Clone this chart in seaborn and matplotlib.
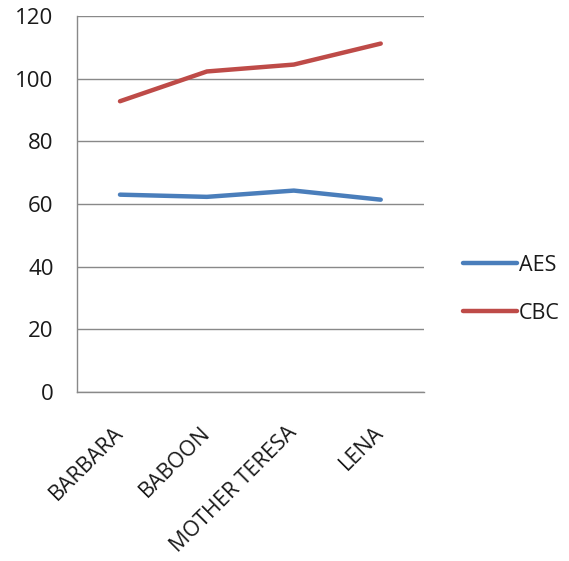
import matplotlib
matplotlib.use("Agg")
import matplotlib.pyplot as plt
import seaborn as sns
import pandas as pd

images = ["BARBARA", "BABOON", "MOTHER TERESA", "LENA"]
aes = [63.0, 62.3, 64.3, 61.4]
cbc = [92.8, 102.3, 104.5, 111.2]
series_names = ["AES", "CBC"]
y_ticks = [0, 20, 40, 60, 80, 100, 120]

sns.set_style("white")
plt.rcParams["font.family"] = ["Open Sans", "DejaVu Sans"]

df = pd.DataFrame({
    "image": images * 2,
    "x": list(range(len(images))) * 2,
    "value": aes + cbc,
    "method": [series_names[0]] * len(images) + [series_names[1]] * len(images),
})

fig = plt.figure(figsize=(5.69, 5.61), dpi=100)
ax = fig.add_axes([0.1345, 0.301, 0.611, 0.6705])

palette = {"AES": "#4A7EBB", "CBC": "#BE4B48"}
line_w = 3.2
sns.lineplot(data=df, x="x", y="value", hue="method", palette=palette,
             linewidth=line_w, ax=ax, legend=False, solid_capstyle="round")

ax.set_xlim(-0.5, len(images) - 0.5)
ax.set_ylim(0, 120)
ax.set_yticks(y_ticks)
ax.set_yticklabels([str(v) for v in y_ticks], fontsize=16, color="#1a1a1a")
ax.yaxis.grid(True, color="#898989", linewidth=1.0)
ax.set_axisbelow(True)

# category labels at centers, tick marks at category boundaries
ax.set_xticks(range(len(images)))
ax.set_xticklabels(images, rotation=45, ha="right", va="center",
                   rotation_mode="anchor", fontsize=15.5, color="#1a1a1a")
ax.tick_params(axis="x", which="major", length=0, pad=27)
ax.set_xticks([i - 0.5 for i in range(len(images) + 1)], minor=True)
ax.tick_params(axis="x", which="minor", length=6.5, color="#898989", width=1.0, direction="out")
ax.tick_params(axis="y", length=6.5, color="#898989", width=1.0, direction="out", pad=10)

for side in ["top", "right"]:
    ax.spines[side].set_visible(False)
for side in ["left", "bottom"]:
    ax.spines[side].set_color("#898989")
    ax.spines[side].set_linewidth(1.0)
ax.set_xlabel("")
ax.set_ylabel("")

handles = [plt.Line2D([], [], color=palette[n], linewidth=line_w, solid_capstyle="round")
           for n in series_names]
fig.legend(handles, series_names, loc="center left", bbox_to_anchor=(0.8137, 0.484),
           frameon=False, fontsize=15.5, handlelength=2.5, handletextpad=0.1,
           labelspacing=1.25, borderaxespad=0, borderpad=0, labelcolor="#1a1a1a")

fig.savefig("out.png", dpi=100)
